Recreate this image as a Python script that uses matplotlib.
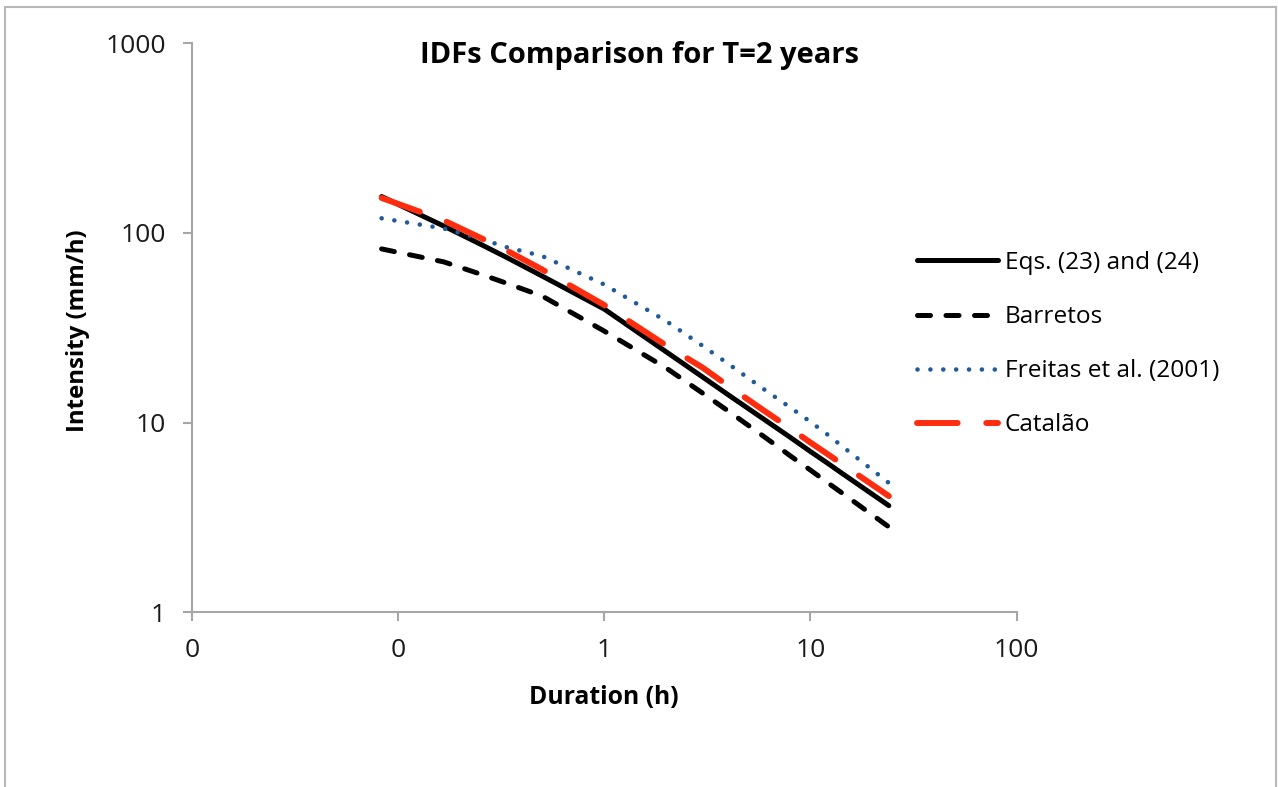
import matplotlib
matplotlib.use("Agg")
import matplotlib.pyplot as plt
from matplotlib.patches import Rectangle

plt.rcParams['font.family'] = ['Open Sans', 'DejaVu Sans']

# Durations (h)
durations = [5/60, 10/60, 15/60, 20/60, 0.5, 1, 2, 3, 4, 6, 8, 10, 12, 14, 24]

eqs_23_24 = [155.6, 108.8, 87.5, 74.7, 59.3, 39.7, 23.6, 17.4, 14.0, 10.35, 8.35, 7.04, 6.15, 5.47, 3.65]
barretos = [82.4, 70.4, 60.8, 54.5, 46.5, 30.4, 19.4, 14.3, 11.5, 8.39, 6.67, 5.62, 4.86, 4.31, 2.82]
freitas = [119.5, 105.6, 93.5, 84.3, 75.6, 53.5, 34.3, 25.4, 20.4, 14.9, 12.0, 10.1, 8.71, 7.62, 4.81]
catalao = [153.0, 116.5, 94.5, 81.3, 64.2, 41.7, 25.5, 19.5, 15.6, 11.5, 9.31, 7.85, 6.87, 6.12, 4.10]

series_names = ["Eqs. (23) and (24)", "Barretos", "Freitas et al. (2001)", "Catalão"]

xticks = [0.01, 0.1, 1, 10, 100]
xtick_labels = ["0", "0", "1", "10", "100"]
yticks = [1, 10, 100, 1000]
ytick_labels = ["1", "10", "100", "1000"]

title = "IDFs Comparison for T=2 years"
xlabel = "Duration (h)"
ylabel = "Intensity (mm/h)"

W, H = 1278, 787
fig = plt.figure(figsize=(W/100, H/100), dpi=100)
ax = fig.add_axes([191.7/W, 1-612.3/H, (1016.7-191.7)/W, (612.3-43.3)/H])

# outer chart border
fig.patches.append(Rectangle((5/W, -0.05), (1276-5)/W, 1.05 - 7/H,
                             transform=fig.transFigure, fill=False,
                             edgecolor='#b8b8b8', linewidth=1.5))

ax.plot(durations, eqs_23_24, color='black', lw=3.6, solid_capstyle='round',
        solid_joinstyle='round', label=series_names[0])
ax.plot(durations, barretos, color='black', lw=3.6, dashes=(2.6, 3.1),
        dash_capstyle='round', label=series_names[1])
ax.plot(durations, freitas, color='#215a98', lw=3.3, dashes=(0.01, 2.8),
        dash_capstyle='round', label=series_names[2])
ax.plot(durations, catalao, color='#ff2d0f', lw=4.3, dashes=(6.8, 4.8),
        dash_capstyle='round', label=series_names[3])

ax.set_xscale('log')
ax.set_yscale('log')
ax.set_xlim(0.01, 100)
ax.set_ylim(1, 1000)
ax.set_xticks(xticks)
ax.set_xticklabels(xtick_labels)
ax.set_yticks(yticks)
ax.set_yticklabels(ytick_labels)
ax.minorticks_off()

for s in ['top', 'right']:
    ax.spines[s].set_visible(False)
for s in ['left', 'bottom']:
    ax.spines[s].set_color('#a6a6a6')
    ax.spines[s].set_linewidth(1.5)
ax.tick_params(axis='both', which='major', direction='out', length=6.5, width=1.5,
               color='#a6a6a6', labelsize=19, labelcolor='#1a1a1a')
ax.tick_params(axis='y', pad=12)
ax.tick_params(axis='x', pad=12)

fig.text(640/W, 1-55/H, title, ha='center', va='center', fontsize=21,
         fontweight='bold')
fig.text(604/W, 1-697/H, xlabel, ha='center', va='center', fontsize=17.8,
         fontweight='bold')
fig.text(78/W, 1-331/H, ylabel, ha='center', va='center', fontsize=17.3,
         fontweight='bold', rotation=90)

leg = ax.legend(loc='upper left', bbox_to_anchor=(917/W, 1-251/H),
                bbox_transform=fig.transFigure, frameon=False, fontsize=17.6,
                handlelength=3.3, handletextpad=0.3, labelspacing=1.23,
                borderaxespad=0, borderpad=0)

fig.savefig("out.png", dpi=100, facecolor='white')
